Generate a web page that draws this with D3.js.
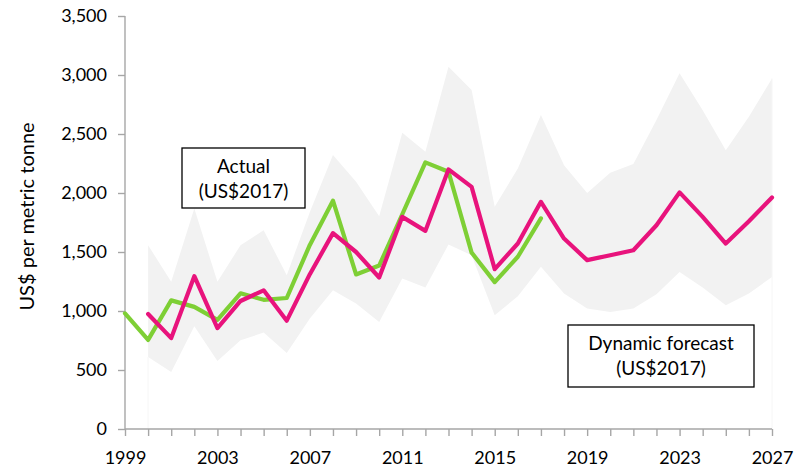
<!DOCTYPE html>
<html>
<head>
<meta charset="utf-8">
<script src="https://cdn.jsdelivr.net/npm/d3@7"></script>
<style>
  html, body { margin: 0; padding: 0; background: #fff; }
  svg { display: block; font-family: Lato, "Open Sans", sans-serif; }
</style>
</head>
<body>
<svg id="chart" width="803" height="468"></svg>
<script>
// ---- data ----
const actualYears = d3.range(1999, 2018);
const actualValues = [980, 755, 1090, 1035, 925, 1150, 1095, 1110, 1560, 1935, 1310, 1385, 1820, 2260, 2180, 1495, 1245, 1460, 1785];

const forecastYears = d3.range(2000, 2028);
const forecastValues = [975, 770, 1295, 855, 1085, 1175, 918, 1312, 1660, 1500, 1284, 1798, 1679, 2200, 2052, 1355, 1572, 1925, 1614, 1431, 1473, 1515, 1727, 2005, 1798, 1572, 1760, 1962];
const bandUpper = [1558, 1247, 1869, 1247, 1558, 1685, 1303, 1840, 2321, 2095, 1804, 2510, 2349, 3070, 2872, 1883, 2208, 2660, 2236, 2001, 2171, 2245, 2618, 3014, 2702, 2363, 2646, 2971];
const bandLower = [611, 483, 871, 577, 752, 817, 644, 936, 1176, 1063, 907, 1275, 1199, 1564, 1473, 964, 1125, 1374, 1148, 1021, 992, 1021, 1142, 1331, 1199, 1049, 1148, 1289];

const yTicks = [0, 500, 1000, 1500, 2000, 2500, 3000, 3500];
const xLabelYears = [1999, 2003, 2007, 2011, 2015, 2019, 2023, 2027];
const yAxisTitle = "US$ per metric tonne";
const actualLabel = ["Actual", "(US$2017)"];
const forecastLabel = ["Dynamic forecast", "(US$2017)"];

// ---- layout ----
const svg = d3.select("#chart");
const x = d3.scaleLinear().domain([1999, 2027]).range([125, 772]);
const y = d3.scaleLinear().domain([0, 3500]).range([429, 16]);

const greenCol = "#7ecf35";
const pinkCol = "#e8137c";
const bandCol = "#f2f2f2";
const axisCol = "#a6a6a6";

// band
const bandData = forecastYears.map((yr, i) => ({ yr, lo: bandLower[i], hi: bandUpper[i] }));
svg.append("path")
  .datum(bandData)
  .attr("fill", bandCol)
  .attr("d", d3.area().x(d => x(d.yr)).y0(d => y(d.lo)).y1(d => y(d.hi)));

// faint edges of the band's base
[forecastYears[0], forecastYears[forecastYears.length - 1]].forEach((yr, k) => {
  const v = k === 0 ? bandLower[0] : bandUpper[bandUpper.length - 1];
  svg.append("line")
    .attr("x1", x(yr)).attr("x2", x(yr))
    .attr("y1", y(0)).attr("y2", y(v))
    .attr("stroke", "#f6f6f6").attr("stroke-width", 1);
});

// axes
const yAxis = d3.axisLeft(y).tickValues(yTicks).tickSize(7).tickPadding(11)
  .tickFormat(d3.format(","));
const gy = svg.append("g").attr("transform", `translate(${x(1999)},0)`).call(yAxis);

const xAxis = d3.axisBottom(x).tickValues(d3.range(1999, 2028)).tickSize(7).tickPadding(15)
  .tickFormat(d => xLabelYears.includes(d) ? String(d) : "");
const gx = svg.append("g").attr("transform", `translate(0,${y(0)})`).call(xAxis);

[gx, gy].forEach(g => {
  g.select(".domain").attr("stroke", axisCol).attr("stroke-width", 1.4);
  g.selectAll(".tick line").attr("stroke", axisCol).attr("stroke-width", 1.4);
  g.selectAll(".tick text").attr("fill", "#000").style("font-size", "18px")
    .style("font-family", "Lato, 'Open Sans', sans-serif");
});
gy.select(".domain").attr("d", `M0,${y(3500)}V${y(0)}`);
gx.select(".domain").attr("d", `M${x(1999)},0H${x(2027)}`);

// lines
const line = d3.line().x(d => x(d[0])).y(d => y(d[1]));
svg.append("path")
  .datum(actualYears.map((yr, i) => [yr, actualValues[i]]))
  .attr("fill", "none").attr("stroke", greenCol).attr("stroke-width", 4.2)
  .attr("stroke-linejoin", "round").attr("stroke-linecap", "round")
  .attr("d", line);
svg.append("path")
  .datum(forecastYears.map((yr, i) => [yr, forecastValues[i]]))
  .attr("fill", "none").attr("stroke", pinkCol).attr("stroke-width", 4.2)
  .attr("stroke-linejoin", "round").attr("stroke-linecap", "round")
  .attr("d", line);

// y axis title
svg.append("text")
  .attr("transform", `translate(34,${(y(0) + y(3500)) / 2 - 6}) rotate(-90)`)
  .attr("text-anchor", "middle")
  .style("font-size", "20px")
  .text(yAxisTitle);

// label boxes
function labelBox(bx, by, bw, bh, lines) {
  const g = svg.append("g");
  g.append("rect").attr("x", bx).attr("y", by).attr("width", bw).attr("height", bh)
    .attr("fill", "#fff").attr("stroke", "#000").attr("stroke-width", 1.3);
  lines.forEach((t, i) => {
    g.append("text")
      .attr("x", bx + bw / 2)
      .attr("y", by + 25 + i * 25)
      .attr("text-anchor", "middle")
      .style("font-size", "19px")
      .text(t);
  });
}
labelBox(182, 148, 123, 60, actualLabel);
labelBox(568, 325, 186, 62, forecastLabel);
</script>
</body>
</html>
